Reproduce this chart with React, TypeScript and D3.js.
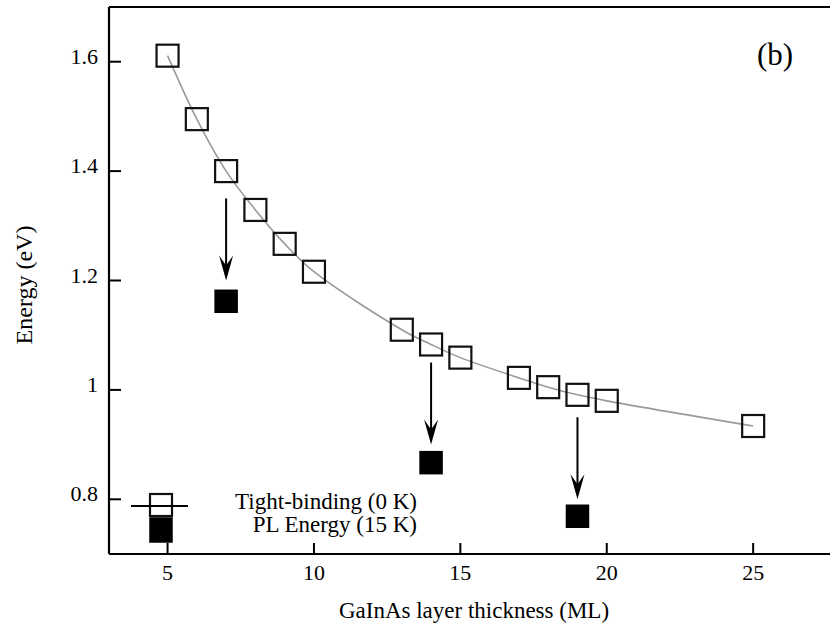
import React from "react";
import * as d3 from "d3";

const thickness = [5, 6, 7, 8, 9, 10, 13, 14, 15, 17, 18, 19, 20, 25];
const tightBinding = [1.611, 1.495, 1.4, 1.329, 1.267, 1.216, 1.11, 1.083, 1.059, 1.022, 1.005, 0.991, 0.98, 0.934];
const plThickness = [7, 14, 19];
const plEnergy = [1.162, 0.867, 0.769];
const arrowFrom = [1.35, 1.05, 0.95];
const arrowTo = [1.2, 0.9, 0.8];
const xTicks = [5, 10, 15, 20, 25];
const yTicks = [0.8, 1, 1.2, 1.4, 1.6];
const yTickLabels = ["0.8", "1", "1.2", "1.4", "1.6"];
const legendLabels = ["Tight-binding (0 K)", "PL Energy (15 K)"];

const W = 830;
const H = 625;
const left = 109;
const right = 841;
const top = 7;
const bottom = 554;
const FONT = "'Liberation Serif', 'Times New Roman', serif";

export default function App() {
  const x = d3.scaleLinear().domain([3, 28]).range([left, right]);
  const y = d3.scaleLinear().domain([0.7, 1.7]).range([bottom, top]);
  const sq = 22;

  const curve = d3
    .line<number>()
    .x((_, i) => x(thickness[i]))
    .y((d) => y(d))
    .curve(d3.curveCatmullRom.alpha(0.5));

  return (
    <svg width={W} height={H} style={{ position: "absolute", left: 0, top: 0, background: "#fff" }} fontFamily={FONT}>
      <rect x={0} y={0} width={W} height={H} fill="#fff" />
      {/* fit curve */}
      <path d={curve(tightBinding) || ""} fill="none" stroke="#9a9a9a" strokeWidth={1.6} />
      {/* open squares */}
      {tightBinding.map((v, i) => (
        <rect key={"o" + i} x={x(thickness[i]) - sq / 2} y={y(v) - sq / 2} width={sq} height={sq} fill="none" stroke="#111" strokeWidth={2.2} />
      ))}
      {/* filled squares */}
      {plEnergy.map((v, i) => (
        <rect key={"f" + i} x={x(plThickness[i]) - sq / 2} y={y(v) - sq / 2} width={sq} height={sq} fill="#000" stroke="#000" strokeWidth={1.5} />
      ))}
      {/* arrows */}
      {arrowFrom.map((v, i) => {
        const ax = x(plThickness[i]);
        const y0 = y(v);
        const y1 = y(arrowTo[i]);
        return (
          <g key={"a" + i}>
            <line x1={ax} x2={ax} y1={y0} y2={y1 - 12} stroke="#000" strokeWidth={2} />
            <path d={`M${ax},${y1} L${ax - 7},${y1 - 25} L${ax},${y1 - 15} L${ax + 7},${y1 - 25} Z`} fill="#000" />
          </g>
        );
      })}
      {/* axes frame */}
      <line x1={left} x2={right} y1={bottom} y2={bottom} stroke="#000" strokeWidth={2.2} />
      <line x1={left} x2={left} y1={top} y2={bottom} stroke="#000" strokeWidth={2.2} />
      <line x1={left} x2={right} y1={top} y2={top} stroke="#000" strokeWidth={2.2} />
      {xTicks.map((t) => (
        <g key={"xt" + t}>
          <line x1={x(t)} x2={x(t)} y1={bottom} y2={bottom - 11} stroke="#000" strokeWidth={2} />
          <text x={x(t)} y={580} fontSize={22} textAnchor="middle" fill="#000">
            {t}
          </text>
        </g>
      ))}
      {yTicks.map((t, i) => (
        <g key={"yt" + t}>
          <line x1={left} x2={left + 12} y1={y(t)} y2={y(t)} stroke="#000" strokeWidth={2} />
          <text x={98} y={y(t) + 2} fontSize={22} textAnchor="end" fill="#000">
            {yTickLabels[i]}
          </text>
        </g>
      ))}
      <text x={474} y={618} fontSize={23} textAnchor="middle" fill="#000">
        GaInAs layer thickness (ML)
      </text>
      <text transform="translate(32,285) rotate(-90)" fontSize={24} textAnchor="middle" fill="#000">
        Energy (eV)
      </text>
      <text x={775} y={65} fontSize={31} textAnchor="middle" fill="#000">
        (b)
      </text>
      {/* legend */}
      <rect x={150} y={494} width={22} height={22} fill="none" stroke="#111" strokeWidth={2.2} />
      <line x1={131} x2={188} y1={506} y2={506} stroke="#000" strokeWidth={2} />
      <rect x={150} y={518} width={22} height={24} fill="#000" stroke="#000" strokeWidth={1.5} />
      <text x={417} y={509} fontSize={23} textAnchor="end" fill="#000">
        {legendLabels[0]}
      </text>
      <text x={417} y={532} fontSize={23} textAnchor="end" fill="#000">
        {legendLabels[1]}
      </text>
    </svg>
  );
}
